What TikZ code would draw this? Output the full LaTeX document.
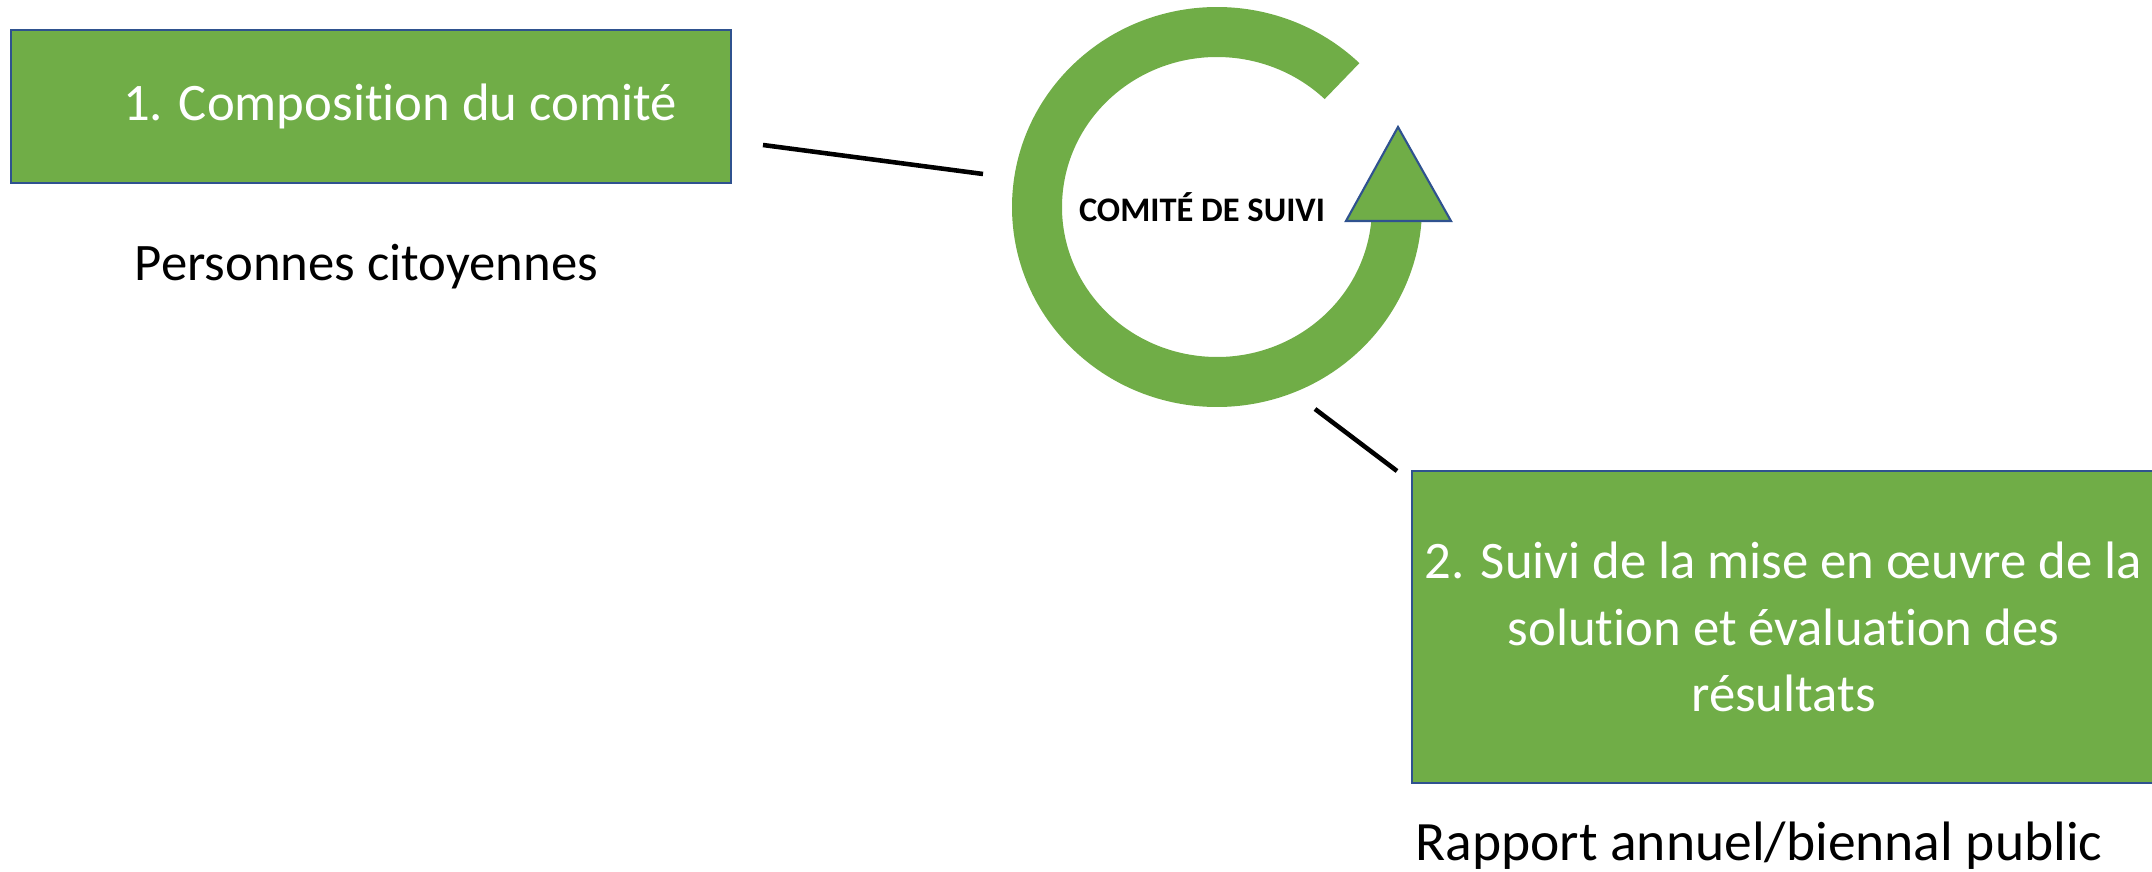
\documentclass[tikz,border=0pt]{standalone}
\usepackage{fontspec}
\setmainfont{Carlito}[Ligatures=NoCommon]
\usetikzlibrary{positioning, calc}
\definecolor{boxgreen}{HTML}{70AD47}
\definecolor{boxblue}{HTML}{2F528F}

\begin{document}
\begin{tikzpicture}[semithick, every node/.style={font=\fontsize{15}{19}\selectfont},
  greenbox/.style={rectangle, draw=boxblue, line width=0.6pt, fill=boxgreen, text=white, align=center, inner sep=0pt},
  link/.style={draw=black, line width=1.3pt}]

\useasboundingbox (0,0) rectangle (21.52,-8.72);

\node[greenbox, minimum width=7.20cm, minimum height=1.53cm] (compo) at (3.71,-1.065) {\hspace*{0.58cm}1. Composition du comité};
\node (citoy) at (3.665,-2.67) {Personnes citoyennes};

% anneau du comite
\coordinate (ring) at (12.17,-2.07);
\fill[boxgreen] ($(ring)+(46:2.05 and 2.00)$) arc[start angle=46, end angle=356, x radius=2.05, y radius=2.00]
   -- ($(ring)+(354.6:1.55 and 1.50)$) arc[start angle=354.6, end angle=46, x radius=1.55, y radius=1.50] -- cycle;
\draw[boxblue, fill=boxgreen, line width=0.6pt] (13.46,-2.21) -- (13.98,-1.27) -- (14.51,-2.21) -- cycle;
\node[font=\bfseries\fontsize{9.8}{12}\selectfont] (comite) at (12.02,-2.07) {COMITÉ DE SUIVI};

\node[greenbox, minimum width=7.43cm, minimum height=3.12cm] (suivi) at (17.835,-6.27) {2. Suivi de la mise en œuvre de la\\solution et évaluation des\\résultats};
\node[font=\fontsize{15.8}{19}\selectfont] (rapport) at (17.59,-8.46) {Rapport annuel/biennal public};

\coordinate (l1a) at (7.63,-1.45);
\coordinate (l1b) at (9.83,-1.74);
\coordinate (l2a) at (13.15,-4.09);
\coordinate (l2b) at (13.97,-4.71);
\draw[link] (l1a) -- (l1b);
\draw[link] (l2a) -- (l2b);

\end{tikzpicture}
\end{document}
